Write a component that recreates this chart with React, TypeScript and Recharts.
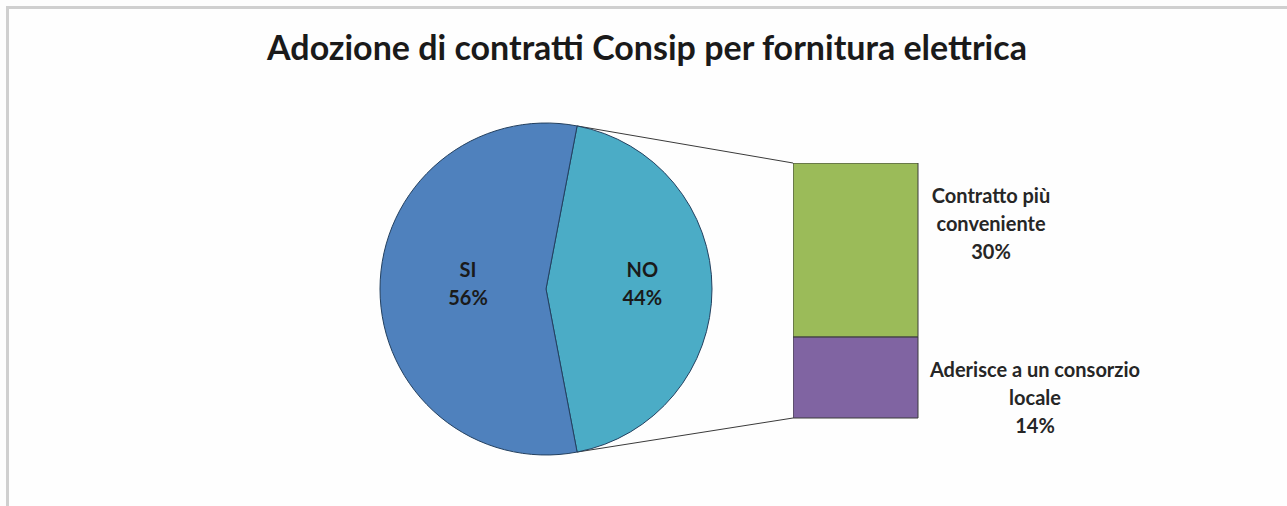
import { Bar, BarChart, Cell, Pie, PieChart, XAxis, YAxis } from 'recharts'

const title = 'Adozione di contratti Consip per fornitura elettrica'

// pie: share of answers
const pieNames = ['NO', 'SI']
const pieValues = [44, 56]

// bar: breakdown of the "NO" answers
const barKeys = ['consorzio', 'conveniente']
const barValues = [14, 30]
const barLabels = [
    ['Aderisce a un consorzio', 'locale'],
    ['Contratto più', 'conveniente'],
]

const pieColors = ['#4bacc6', '#4f81bd']
const barColors = ['#8064a2', '#9bbb59']
const labelDx = [117, 73]
const pieLabelR = [0.58, 0.47]

const FONT = 'Lato, "Open Sans", sans-serif'
const W = 1287
const H = 506
const CX = 546
const CY = 289
const R = 166
const BAR_LEFT = 793
const BAR_TOP = 163
const BAR_W = 125
const BAR_H = 255

const pieData = pieNames.map((name, i) => ({ name, value: pieValues[i] }))
const total = pieValues.reduce((a, b) => a + b, 0)
const startAngle = -(pieValues[0] / total) * 360 / 2

const barRow: Record<string, string | number> = { name: 'NO' }
barKeys.forEach((k, i) => { barRow[k] = barValues[i] })
const barData = [barRow]
const barTotal = barValues.reduce((a, b) => a + b, 0)

const RAD = Math.PI / 180

const renderPieLabel = (props: any) => {
    const { cx, cy, midAngle, outerRadius, index, name, value } = props
    const r = outerRadius * pieLabelR[index]
    const x = cx + r * Math.cos(-midAngle * RAD)
    const y = cy + r * Math.sin(-midAngle * RAD)
    return (
        <text x={x} y={y} textAnchor="middle" fontFamily={FONT} fontWeight="bold" fontSize={20} fill="#1a1a1a">
            <tspan x={x} dy={-12}>{name}</tspan>
            <tspan x={x} dy={28}>{value}%</tspan>
        </text>
    )
}

const barLabel = (i: number) => (props: any) => {
    const { x, y, width } = props
    const lx = x + width + labelDx[i]
    const lines = [...barLabels[i], `${barValues[i]}%`]
    return (
        <text x={lx} y={y + 40} textAnchor="middle" fontFamily={FONT} fontWeight="bold" fontSize={20} fill="#262626">
            {lines.map((l, j) => (
                <tspan key={j} x={lx} dy={j === 0 ? 0 : 28}>{l}</tspan>
            ))}
        </text>
    )
}

const App = () => {
    const a = (pieValues[0] / total) * 180 * RAD
    const top = { x: CX + R * Math.cos(a), y: CY - R * Math.sin(a) }
    const bottom = { x: CX + R * Math.cos(-a), y: CY - R * Math.sin(-a) }

    return (
        <div style={{ position: 'absolute', left: 0, top: 0, width: W, height: H, background: '#fdfdfd' }}>
            <div style={{
                position: 'absolute', left: 6, top: 6, right: 0, bottom: 0,
                borderTop: '3px solid #cfcfcf', borderLeft: '3px solid #cfcfcf', background: '#fefefe',
            }} />
            <svg width={W} height={H} style={{ position: 'absolute', left: 0, top: 0 }}>
                <text x={647} y={60} textAnchor="middle" fontFamily={FONT} fontWeight="bold" fontSize={34} fill="#1a1a1a">
                    {title}
                </text>
                <line x1={top.x} y1={top.y} x2={BAR_LEFT} y2={BAR_TOP} stroke="#3a3a3a" strokeWidth={1} />
                <line x1={bottom.x} y1={bottom.y} x2={BAR_LEFT} y2={BAR_TOP + BAR_H} stroke="#3a3a3a" strokeWidth={1} />
            </svg>
            <div style={{ position: 'absolute', left: 0, top: 0 }}>
                <PieChart width={W} height={H} margin={{ top: 0, right: 0, bottom: 0, left: 0 }}>
                    <Pie
                        data={pieData}
                        dataKey="value"
                        nameKey="name"
                        cx={CX}
                        cy={CY}
                        outerRadius={R}
                        startAngle={startAngle}
                        endAngle={startAngle + 360}
                        stroke="#23405f"
                        strokeWidth={1}
                        label={renderPieLabel}
                        labelLine={false}
                        isAnimationActive={false}
                    >
                        {pieData.map((d, i) => <Cell key={d.name} fill={pieColors[i]} />)}
                    </Pie>
                </PieChart>
            </div>
            <div style={{ position: 'absolute', left: BAR_LEFT, top: BAR_TOP }}>
                <BarChart
                    width={420}
                    height={BAR_H + 20}
                    data={barData}
                    margin={{ top: 0, right: 420 - BAR_W, left: 0, bottom: 20 }}
                    barCategoryGap={0}
                >
                    <XAxis dataKey="name" hide />
                    <YAxis hide domain={[0, barTotal]} />
                    {barKeys.map((k, i) => (
                        <Bar
                            key={k}
                            dataKey={k}
                            stackId="a"
                            fill={barColors[i]}
                            stroke="#3a3a3a"
                            strokeWidth={1}
                            label={barLabel(i)}
                            isAnimationActive={false}
                        />
                    ))}
                </BarChart>
            </div>
        </div>
    )
}

export default App
